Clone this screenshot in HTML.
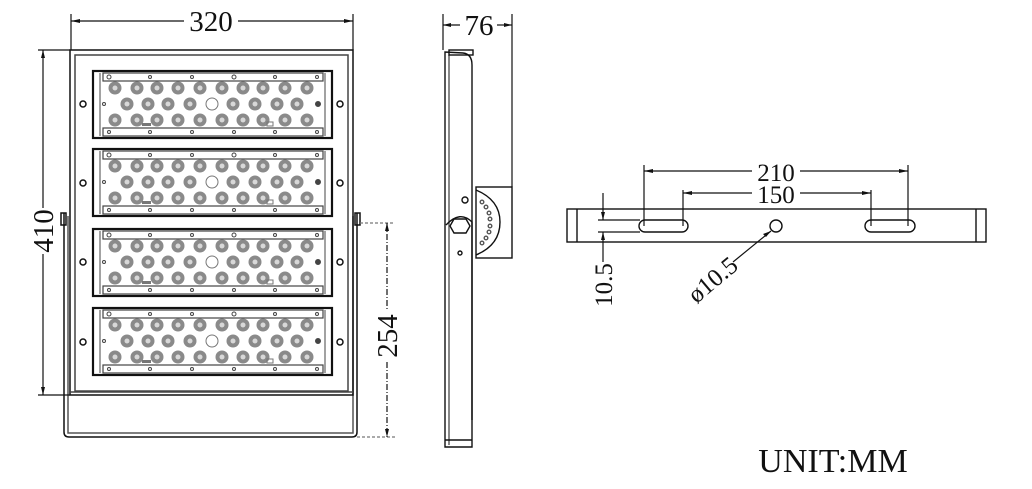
<!DOCTYPE html>
<html><head><meta charset="utf-8"><style>
html,body{margin:0;padding:0;background:#fff;}
svg{display:block;}
text{font-family:"Liberation Serif",serif;fill:#111;}
</style></head><body>
<svg width="1032" height="489" viewBox="0 0 1032 489" xmlns="http://www.w3.org/2000/svg">
<defs>
<g id="led"><circle r="6.5" fill="#8a8a8a"/><circle r="2.5" fill="#d8d8d8"/></g>
<g id="mod">
  <rect x="0" y="0" width="239" height="67" fill="#fff" stroke="#111" stroke-width="2.2"/>
  <rect x="10" y="2" width="220" height="8" fill="none" stroke="#444" stroke-width="1.2"/>
  <rect x="10" y="57" width="220" height="8" fill="none" stroke="#444" stroke-width="1.2"/>
  <line x1="7" y1="2" x2="7" y2="65" stroke="#444"/>
  <line x1="232" y1="2" x2="232" y2="65" stroke="#444"/>
  <g fill="none" stroke="#444" stroke-width="1">
    <circle cx="16" cy="6" r="2"/><circle cx="57" cy="6" r="1.5"/><circle cx="99" cy="6" r="1.5"/><circle cx="141" cy="6" r="2"/><circle cx="182" cy="6" r="1.5"/><circle cx="224" cy="6" r="1.5"/>
    <circle cx="16" cy="61" r="1.5"/><circle cx="57" cy="61" r="1.5"/><circle cx="99" cy="61" r="1.5"/><circle cx="141" cy="61" r="1.5"/><circle cx="182" cy="61" r="1.5"/><circle cx="224" cy="61" r="1.5"/>
    <circle cx="11" cy="33" r="1.5"/><circle cx="225" cy="33" r="2.5" fill="#444"/>
  </g>
  <use href="#led" x="22" y="17"/><use href="#led" x="44" y="17"/><use href="#led" x="64" y="17"/><use href="#led" x="85" y="17"/><use href="#led" x="107" y="17"/><use href="#led" x="129" y="17"/><use href="#led" x="150" y="17"/><use href="#led" x="170" y="17"/><use href="#led" x="192" y="17"/><use href="#led" x="214" y="17"/>
  <use href="#led" x="34" y="33"/><use href="#led" x="55" y="33"/><use href="#led" x="75" y="33"/><use href="#led" x="97" y="33"/><circle cx="119" cy="33" r="6" fill="none" stroke="#777"/><use href="#led" x="140" y="33"/><use href="#led" x="162" y="33"/><use href="#led" x="184" y="33"/><use href="#led" x="204" y="33"/>
  <use href="#led" x="22" y="49"/><use href="#led" x="44" y="49"/><use href="#led" x="64" y="49"/><use href="#led" x="85" y="49"/><use href="#led" x="107" y="49"/><use href="#led" x="129" y="49"/><use href="#led" x="150" y="49"/><use href="#led" x="170" y="49"/><use href="#led" x="192" y="49"/><use href="#led" x="214" y="49"/>
  <rect x="49" y="52" width="9" height="3" fill="#777"/><rect x="174" y="51" width="6" height="4" fill="none" stroke="#777"/>
</g>
</defs>

<g fill="none" stroke="#111" stroke-width="1.5">
  <path d="M64 213 V432 Q64 437 69 437 H352 Q357 437 357 432 V213"/>
  <path d="M68 216 V433 H353 V216" stroke="#555"/>
  <rect x="61" y="213" width="5" height="12"/><rect x="355" y="213" width="5" height="12"/>
  <rect x="70" y="50" width="283" height="345"/>
  <rect x="75" y="55" width="273" height="336" stroke="#444"/>
  <line x1="70" y1="392" x2="353" y2="392" stroke="#444"/>
</g>
<use href="#mod" x="93" y="71"/>
<use href="#mod" x="93" y="149"/>
<use href="#mod" x="93" y="229"/>
<use href="#mod" x="93" y="308"/>
<g fill="#fff" stroke="#111" stroke-width="1.5">
  <circle cx="83" cy="104" r="3"/><circle cx="340" cy="104" r="3"/>
  <circle cx="83" cy="183" r="3"/><circle cx="340" cy="183" r="3"/>
  <circle cx="83" cy="262" r="3"/><circle cx="340" cy="262" r="3"/>
  <circle cx="83" cy="342" r="3"/><circle cx="340" cy="342" r="3"/>
</g>

<g stroke="#111" stroke-width="1.2" fill="none">
  <line x1="71" y1="14" x2="71" y2="50"/><line x1="353" y1="14" x2="353" y2="50"/>
  <line x1="71" y1="21" x2="184" y2="21"/><line x1="238" y1="21" x2="353" y2="21"/>
  <line x1="38" y1="50" x2="70" y2="50"/><line x1="38" y1="395" x2="70" y2="395"/>
  <line x1="43" y1="50" x2="43" y2="208"/><line x1="43" y1="254" x2="43" y2="395"/>
  <line x1="360" y1="223" x2="395" y2="223" stroke-dasharray="3,2" stroke="#777"/>
  <line x1="357" y1="437" x2="395" y2="437" stroke-dasharray="3,2" stroke="#777"/>
  <line x1="387" y1="223" x2="387" y2="310" stroke-dasharray="6,2,1,2"/>
  <line x1="387" y1="362" x2="387" y2="437" stroke-dasharray="6,2,1,2"/>
</g>
<g fill="#111">
  <path d="M71 21 l9 -2 v4z"/><path d="M353 21 l-9 -2 v4z"/>
  <path d="M43 50 l-2 8 h4z"/><path d="M43 395 l-2 -8 h4z"/>
  <path d="M387 223 l-2 8 h4z"/><path d="M387 437 l-2 -8 h4z"/>
</g>
<text x="211" y="31" font-size="29" text-anchor="middle">320</text>
<text transform="translate(53,231) rotate(-90)" font-size="29" text-anchor="middle">410</text>
<text transform="translate(397,336) rotate(-90)" font-size="29" text-anchor="middle">254</text>

<g fill="none" stroke="#111" stroke-width="1.4">
  <path d="M445 52 V447 H472 V65 Q472 54 463 53 Z"/>
  <line x1="449" y1="55" x2="449" y2="445" stroke="#555"/>
  <rect x="449" y="50" width="24" height="5"/>
  <line x1="445" y1="440" x2="472" y2="440"/>
  <rect x="476" y="187" width="36" height="71"/>
  <path d="M476 190 Q500 200 500 222 Q500 245 476 255"/>
  <path d="M446 225 Q460 210 472 222 V420" />
  <polygon points="454,219 466,219 470,226 466,233 454,233 450,226"/>
  <circle cx="460" cy="253" r="2"/>
  <circle cx="465" cy="200" r="3"/>
  <g stroke="#555"><circle cx="482" cy="202" r="1.8"/><circle cx="486" cy="207" r="1.8"/><circle cx="489" cy="213" r="1.8"/><circle cx="490" cy="219" r="1.8"/><circle cx="490" cy="226" r="1.8"/><circle cx="489" cy="232" r="1.8"/><circle cx="486" cy="238" r="1.8"/><circle cx="482" cy="243" r="1.8"/></g>
</g>
<g stroke="#111" stroke-width="1.2" fill="none">
  <line x1="443" y1="14" x2="443" y2="50"/><line x1="512" y1="14" x2="512" y2="187"/>
  <line x1="443" y1="25" x2="460" y2="25"/><line x1="497" y1="25" x2="512" y2="25"/>
</g>
<g fill="#111"><path d="M443 25 l8 -2 v4z"/><path d="M512 25 l-8 -2 v4z"/></g>
<text x="479" y="35" font-size="29" text-anchor="middle">76</text>

<g fill="none" stroke="#111" stroke-width="1.4">
  <rect x="567" y="209" width="419" height="33"/>
  <line x1="577" y1="209" x2="577" y2="242"/><line x1="976" y1="209" x2="976" y2="242"/>
  <rect x="639" y="220" width="49" height="12" rx="6"/>
  <rect x="865" y="220" width="50" height="12" rx="6"/>
  <circle cx="776" cy="226" r="6"/>
</g>
<g stroke="#111" stroke-width="1.2" fill="none">
  <line x1="644" y1="165" x2="644" y2="226"/><line x1="908" y1="165" x2="908" y2="226"/>
  <line x1="683" y1="190" x2="683" y2="226"/><line x1="871" y1="190" x2="871" y2="226"/>
  <line x1="644" y1="171" x2="752" y2="171"/><line x1="800" y1="171" x2="908" y2="171"/>
  <line x1="683" y1="193" x2="752" y2="193"/><line x1="800" y1="193" x2="871" y2="193"/>
  <line x1="598" y1="220" x2="640" y2="220"/><line x1="598" y1="232" x2="640" y2="232"/>
  <line x1="603" y1="193" x2="603" y2="220"/><line x1="603" y1="232" x2="603" y2="262"/>
  <line x1="733" y1="262" x2="771" y2="231"/>
</g>
<g fill="#111">
  <path d="M644 171 l9 -2 v4z"/><path d="M908 171 l-9 -2 v4z"/>
  <path d="M683 193 l9 -2 v4z"/><path d="M871 193 l-9 -2 v4z"/>
  <path d="M603 220 l-2 -8 h4z"/><path d="M603 232 l-2 8 h4z"/>
  <path d="M771 231 l-8 3 l3 3z"/>
</g>
<text x="776" y="181" font-size="25" text-anchor="middle">210</text>
<text x="776" y="203" font-size="25" text-anchor="middle">150</text>
<text transform="translate(612,285) rotate(-90)" font-size="25" text-anchor="middle">10.5</text>
<text transform="translate(718,286) rotate(-40)" font-size="25" text-anchor="middle">ø10.5</text>

<text x="833" y="472" font-size="34" text-anchor="middle">UNIT:MM</text>
</svg>
</body></html>
